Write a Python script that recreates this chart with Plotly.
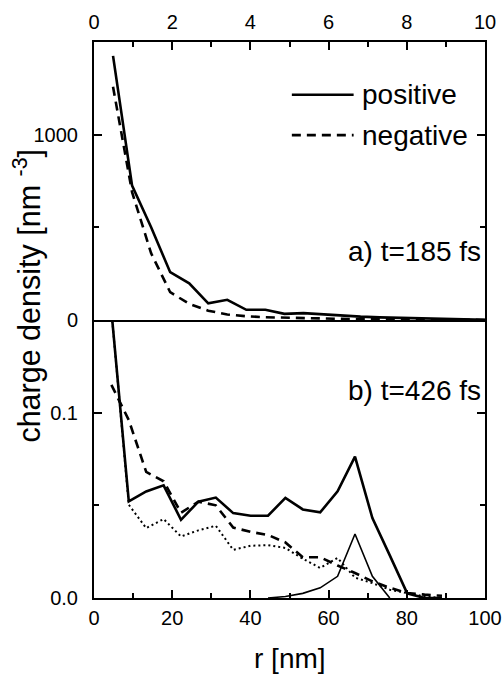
import plotly.graph_objects as go

# ---------------- data ----------------
# top panel (a) t=185 fs ; x on top axis 0..10
r_top = [0.487, 0.974, 1.461, 1.948, 2.435, 2.922, 3.409, 3.896, 4.383, 4.87,
         5.357, 5.844, 6.331, 6.818, 7.305, 7.792, 8.279, 8.766, 9.253, 9.74, 10.227]
pos_top = [1425, 725, 500, 258, 198, 90, 109, 55, 55, 33,
           37, 30, 24, 18, 14, 11, 8, 6, 4, 2, 0]
neg_top = [1258, 690, 360, 150, 87, 50, 30, 20, 15, 12,
           10, 8, 6, 5, 4, 3, 2, 2, 1, 1, 0]

# bottom panel (b) t=426 fs ; r [nm] 0..100
r_bot = [4.45, 8.9, 13.35, 17.8, 22.25, 26.7, 31.15, 35.6, 40.05, 44.5,
         48.95, 53.4, 57.85, 62.3, 66.75, 71.2, 75.65, 80.1, 84.55, 89.0]
pos_bot = [0.155, 0.0521, 0.0575, 0.0608, 0.0422, 0.0520, 0.0542, 0.0458, 0.0444, 0.0444,
           0.0540, 0.0478, 0.0462, 0.0576, 0.0763, 0.0431, 0.0230, 0.0025, 0.0, 0.0]
neg_bot = [0.115, 0.096, 0.068, 0.063, 0.046, 0.052, 0.050, 0.038, 0.0357, 0.034,
           0.030, 0.022, 0.022, 0.0175, 0.0135, 0.009, 0.0055, 0.0027, 0.0018, 0.0012]
dot_bot = [0.155, 0.0503, 0.0377, 0.0426, 0.0332, 0.0365, 0.039, 0.026, 0.0282, 0.0285,
           0.027, 0.0212, 0.0162, 0.0216, 0.011, 0.008, 0.0045, 0.0025, 0.0008, 0.0]
r_thin = [44.5, 48.95, 53.4, 57.85, 62.3, 66.75, 71.2, 75.65]
thin_bot = [0.0, 0.0008, 0.0025, 0.0055, 0.0117, 0.0345, 0.0117, 0.0]

legend_names = ["positive", "negative"]
panel_labels = ["a) t=185 fs", "b) t=426 fs"]
x_title = "r [nm]"
y_title = "charge density [nm <sup>-3</sup>]"

FONT = "Liberation Sans, Arial, Helvetica, sans-serif"
BIG = 28
YT = 30.5
TICKF = 20
LW = 2.6
DASH = "9px,6px"
DOT = "2px,3px"

fig = go.Figure()

# top panel
fig.add_trace(go.Scatter(x=r_top, y=pos_top, xaxis="x2", yaxis="y2", mode="lines",
                         line=dict(color="black", width=LW), name=legend_names[0], showlegend=False))
fig.add_trace(go.Scatter(x=r_top, y=neg_top, xaxis="x2", yaxis="y2", mode="lines",
                         line=dict(color="black", width=LW, dash=DASH), name=legend_names[1], showlegend=False))
# bottom panel
fig.add_trace(go.Scatter(x=r_bot, y=pos_bot, xaxis="x", yaxis="y", mode="lines",
                         line=dict(color="black", width=LW), name="positive (b)", showlegend=False))
fig.add_trace(go.Scatter(x=r_bot, y=neg_bot, xaxis="x", yaxis="y", mode="lines",
                         line=dict(color="black", width=LW, dash=DASH), name="negative (b)", showlegend=False))
fig.add_trace(go.Scatter(x=r_bot, y=dot_bot, xaxis="x", yaxis="y", mode="lines",
                         line=dict(color="black", width=2, dash=DOT), name="dotted", showlegend=False))
fig.add_trace(go.Scatter(x=r_thin, y=thin_bot, xaxis="x", yaxis="y", mode="lines",
                         line=dict(color="black", width=1.6), name="thin", showlegend=False))

axis_common = dict(showline=True, linecolor="black", linewidth=2, ticks="inside",
                   tickcolor="black", tickwidth=2, ticklen=8, showgrid=False, zeroline=False,
                   automargin=False,
                   tickfont=dict(family=FONT, size=TICKF, color="black"))
minor_common = dict(ticks="inside", ticklen=5, tickwidth=2, tickcolor="black", showgrid=False)

fig.update_layout(
    width=502, height=675,
    margin=dict(l=94, r=17, t=42, b=77),
    plot_bgcolor="white", paper_bgcolor="white",
    font=dict(family=FONT, color="black"),
    xaxis=dict(domain=[0, 1], range=[0, 100], anchor="y", tickvals=[0, 20, 40, 60, 80, 100],
               mirror=False, ticklabelstandoff=1, minor=dict(dtick=10, **minor_common),
               **axis_common),
    yaxis=dict(domain=[0, 0.5], range=[0, 0.15], anchor="x", tickvals=[0, 0.1],
               ticktext=["0.0", "0.1"], mirror="ticks", ticklabelstandoff=10,
               minor=dict(tickvals=[0.05], **minor_common),
               **axis_common),
    xaxis2=dict(domain=[0, 1], range=[0, 10], anchor="y2", side="top", tickvals=[0, 2, 4, 6, 8, 10],
                mirror=True, ticklabelstandoff=3, minor=dict(dtick=1, **minor_common),
                **axis_common),
    yaxis2=dict(domain=[0.5, 1], range=[0, 1500], anchor="x2", tickvals=[0, 1000], mirror="ticks",
                ticklabelstandoff=10, minor=dict(tickvals=[500], **minor_common),
                **axis_common),
)

# axis titles
fig.add_annotation(text=y_title, xref="paper", yref="paper",
                   x=-0.17, y=0.543, xanchor="center", yanchor="middle", textangle=-90,
                   showarrow=False, font=dict(family=FONT, size=YT, color="black"))
fig.add_annotation(text=x_title, xref="paper", yref="paper",
                   x=0.5, y=-0.108, xanchor="center", yanchor="middle",
                   showarrow=False, font=dict(family=FONT, size=BIG, color="black"))

# panel labels
fig.add_annotation(text=panel_labels[0], xref="x2 domain", yref="y2 domain", x=0.994, y=0.245,
                   xanchor="right", yanchor="middle", showarrow=False,
                   font=dict(family=FONT, size=BIG, color="black"))
fig.add_annotation(text=panel_labels[1], xref="x domain", yref="y domain", x=0.994, y=0.745,
                   xanchor="right", yanchor="middle", showarrow=False,
                   font=dict(family=FONT, size=BIG, color="black"))

# legend (manual)
leg_rows = [(0.81, None), (0.665, DASH)]
for (yy, dsh), name in zip(leg_rows, legend_names):
    fig.add_shape(type="line", xref="x2 domain", yref="y2 domain", x0=0.506, x1=0.664, y0=yy, y1=yy,
                  line=dict(color="black", width=LW, dash=dsh))
    fig.add_annotation(text=name, xref="x2 domain", yref="y2 domain", x=0.68, y=yy,
                       xanchor="left", yanchor="middle", showarrow=False,
                       font=dict(family=FONT, size=BIG, color="black"))

fig.write_html("out.html", config={"displayModeBar": False},
               post_script="document.body.style.margin='0px';")
